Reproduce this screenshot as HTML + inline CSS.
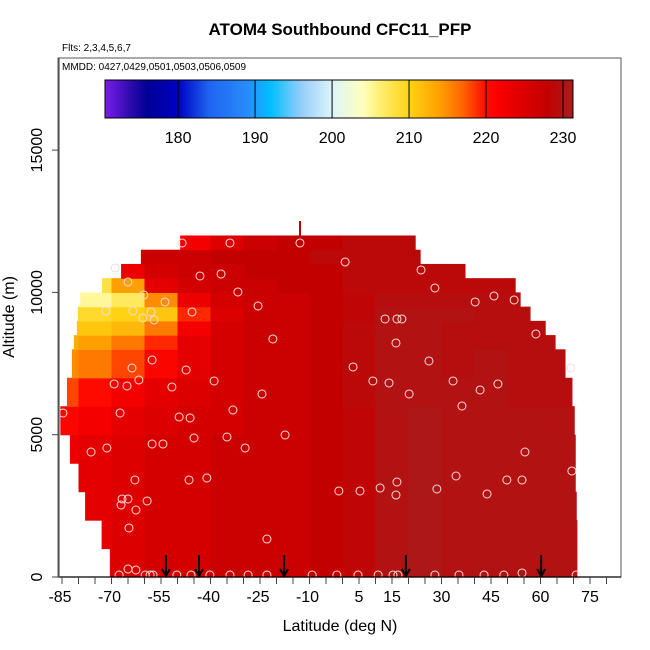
<!DOCTYPE html>
<html><head><meta charset="utf-8"><style>
html,body{margin:0;padding:0;background:#fff}
svg{display:block;font-family:"Liberation Sans",sans-serif}
</style></head><body>
<svg id="chart" width="650" height="650" viewBox="0 0 650 650"></svg>
<script>
// ---- data ----
const rowAltStart = [0,1000,2000,3000,4000,5000,6000,7000,8000,8500,9000,9500,10000,10500,11000,11500];
const rowAltEnd   = [1000,2000,3000,4000,5000,6000,7000,8000,8500,9000,9500,10000,10500,11000,11500,12000];
const rowLatLeft  = [-70.5,-73,-78,-80,-82.6,-85.5,-83.5,-82,-81.4,-80.5,-80.2,-79.5,-72.9,-67.1,-61.1,-49.2];
const rowLatRight = [71,71,70.8,70.5,70.5,70.2,69.5,67.4,64.4,61.4,56.8,53.8,52.3,37.1,23.5,22];
const colLatCenter = [-85,-75,-65,-55,-45,-35,-25,-15,-5,5,15,25,35,45,55,65,75];
const cfcRow0  = [223,224,225,226,226,227,227,227,228,228.5,230,230.5,230,230,230,230,230];
const cfcRow1  = [223,224,225,226,226,227,227,227,228,228.5,230,230.5,230,230,230,230,230];
const cfcRow2  = [223,224,225,226,226,227,227,227,228,228.5,230,230.5,230,230,230,230,230];
const cfcRow3  = [223,224,225,226,226,227,227,227,228,228.5,230,230.5,230,230,230,230,230];
const cfcRow4  = [223,224,225,226,226,227,227,227,228,228.5,230,230.5,230,230,230,230,230];
const cfcRow5  = [221,222,224,225,226,226,227,227,228,228.5,230,230.5,230,230,230,230,230];
const cfcRow6  = [218,220,222,224,225,226,227,227,228,229,230,230,230,230,229.5,229.5,229.5];
const cfcRow7  = [215,216,218,221,224,226,227,227,228,229,230,230,229.5,230,229.5,229.5,229.5];
const cfcRow8  = [213,214,216,219,224,226,227,227,228,229,230,230,229.5,229.5,229.5,229.5,229.5];
const cfcRow9  = [211,211,212,216,222,226,227,227,228,229,230,230,229.5,229.5,229.5,229.5,229.5];
const cfcRow10 = [209,209,210,211,219,225,227,227,228,228.5,230,230,230,229.5,229.5,229.5,229.5];
const cfcRow11 = [205,205,207,215,223,226,227,227,228,228.5,229.5,229.5,229.5,229.5,229.5,229.5,229.5];
const cfcRow12 = [208,208,214,224,226,227,227,228,228,229,229,229,229,229,229,229,229];
const cfcRow13 = [223,223,223,226,227,227,228,228,228,229,229,229,229,229,229,229,229];
const cfcRow14 = [227,227,227,227,227,228,228,228,229,229,229,229,229,229,229,229,229];
const cfcRow15 = [218,218,218,218,222,225,227,228,228,229,229,229,229,229,229,229,229];
const cfcRows = [cfcRow0,cfcRow1,cfcRow2,cfcRow3,cfcRow4,cfcRow5,cfcRow6,cfcRow7,cfcRow8,cfcRow9,cfcRow10,cfcRow11,cfcRow12,cfcRow13,cfcRow14,cfcRow15];
const ptLat = [-84.7,-76.2,-67.7,-65,-62.6,-59.8,-58.3,-57.4,-50.2,-45.9,-40.2,-34.1,-28.6,-22.9,-9.2,-1.7,4.7,10.8,15.3,16.8,28,35.3,42.9,48.9,54.4,70.8,
 -48.6,-34.1,-12.9,0.8,23.8,-68.9,-43.2,-36.8,-65,-60.2,-31.7,-25.6,-71.7,-63.5,-58,-53.8,-60.5,-57.1,-45.6,-21.1,28,40.2,45.9,52,58.6,12.9,16.5,18,16.2,26.2,3.2,9.2,14.1,20.2,33.5,36.2,41.7,47.1,69.2,
 -63.8,-57.7,-69.2,-65.3,-61.7,-51.7,-47.4,-38.9,-24.4,-33.2,-49.5,-46.2,-45,-35,-29.5,-57.7,-54.4,-17.4,-71.4,-67.4,-46.5,-41.1,-62.9,-1.1,5.3,11.4,16.5,16.2,28.6,34.4,43.8,49.8,54.4,55.3,69.5,-66.8,-65,-59.2,-67.1,-62.6,-64.7,-22.9];
const ptAlt = [5763,4392,70,281,246,70,70,70,70,70,70,70,70,70,70,70,70,70,70,70,70,70,70,70,141,70,
 11737,11737,11737,11070,10788,10859,10577,10647,10366,9909,10015,9523,9347,9347,9312,9663,9101,9031,9312,8363,10155,9663,9874,9734,8539,9066,9066,9066,8223,7590,7379,6888,6817,6431,6888,6009,6571,6782,7344,
 7344,7625,6782,6712,6923,6677,7274,6888,6431,5868,5622,5587,4884,4920,4533,4674,4674,4990,4533,5763,3409,3479,3409,3022,3022,3127,3338,2881,3092,3549,2917,3409,3409,4392,3725,2741,2741,2671,2530,2354,1722,1335];
const flightArrowLat = [-53.5,-43.5,-17.7,19.2,60.2];
const xTickLabels = [-85,-70,-55,-40,-25,-10,5,15,30,45,60,75];
const yTickLabels = [0,5000,10000,15000];
const cbarTicks = [180,190,200,210,220,230];
// ---- scales ----
const X0=62, XS=3.3, Y0=577, YS=142.3/5000;
const xS = lat => X0 + (lat+85)*XS;
const yS = alt => Y0 - alt*YS;
const CB_L=105, CB_R=573, CB_V0=170.5, CB_V1=231.3;
const cbX = v => CB_L + (v-CB_V0)/(CB_V1-CB_V0)*(CB_R-CB_L);
const stops=[[170.5,[122,29,232]],[174,[40,10,170]],[176,[0,0,150]],[180,[0,0,195]],[184,[30,100,240]],[189,[40,140,250]],[192,[0,190,255]],[196,[150,205,250]],[200,[220,245,250]],[204,[255,255,190]],[206,[255,240,120]],[210,[255,210,20]],[214,[255,160,0]],[217,[255,100,0]],[220,[255,10,0]],[222,[245,0,0]],[225,[220,0,0]],[228,[195,0,0]],[230,[178,18,18]],[231.3,[165,30,30]]];
function cmap(v){
  if(v<=stops[0][0]) return 'rgb('+stops[0][1]+')';
  for(let i=1;i<stops.length;i++){
    if(v<=stops[i][0]){const a=stops[i-1],b=stops[i],t=(v-a[0])/(b[0]-a[0]);
      return 'rgb('+a[1].map((c,k)=>Math.round(c+(b[1][k]-c)*t)).join(',')+')';}
  }
  return 'rgb('+stops[stops.length-1][1]+')';
}
const NS='http://www.w3.org/2000/svg', svg=document.getElementById('chart');
function mk(tag,attrs,parent){const e=document.createElementNS(NS,tag);for(const k in attrs)e.setAttribute(k,attrs[k]);(parent||svg).appendChild(e);return e;}
// title
let t=mk('text',{x:340,y:35,'text-anchor':'middle','font-size':17,'font-weight':'bold'});t.textContent='ATOM4 Southbound CFC11_PFP';


t=mk('text',{x:62,y:51,'font-size':10});t.textContent='Flts: 2,3,4,5,6,7';


// heatmap
const hm=mk('g',{});


cfcRows.forEach((row,r)=>{
  const y1=yS(rowAltStart[r]), y0=yS(rowAltEnd[r]);
  row.forEach((v,c)=>{
    let l=Math.max(colLatCenter[c]-5,rowLatLeft[r]), rr=Math.min(colLatCenter[c]+5,rowLatRight[r]);
    if(rr<=l) return;
    const e=mk('rect',{x:xS(l),y:y0,width:xS(rr)-xS(l)+0.6,height:y1-y0+0.6,fill:cmap(v)},hm);
    
    
  });
});
mk('line',{x1:300,y1:221,x2:300,y2:236,stroke:'#c00000','stroke-width':2},hm);
// points
const pg=mk('g',{fill:'none',stroke:'#f4dada','stroke-width':1});


ptLat.forEach((la,i)=>{const c=mk('circle',{cx:xS(la),cy:yS(ptAlt[i]),r:4},pg);
  
  });
// arrows
flightArrowLat.forEach(la=>{const x=xS(la);const g=mk('g',{stroke:'#000','stroke-width':2,fill:'none'});
  
  
  mk('line',{x1:x,y1:555,x2:x,y2:576},g);mk('polyline',{points:(x-4)+',569 '+x+',576 '+(x+4)+',569'},g);});
// plot box
const box=mk('rect',{x:58,y:58,width:563,height:519,fill:'none',stroke:'#555','stroke-width':1});


mk('line',{x1:58,y1:577,x2:621,y2:577,stroke:'#000','stroke-width':1.2});
// legend text + colorbar
t=mk('text',{x:62,y:70,'font-size':10});t.textContent='MMDD: 0427,0429,0501,0503,0506,0509';


const cb=mk('g',{});


for(let x=CB_L;x<CB_R;x+=1){const v=CB_V0+(x+0.5-CB_L)/(CB_R-CB_L)*(CB_V1-CB_V0);mk('rect',{x:x,y:80,width:1.2,height:38,fill:cmap(v)},cb);}
mk('rect',{x:CB_L,y:80,width:CB_R-CB_L,height:38,fill:'none',stroke:'#000','stroke-width':1},cb);
cbarTicks.forEach(v=>{mk('line',{x1:cbX(v),y1:80,x2:cbX(v),y2:118,stroke:'#000','stroke-width':1},cb);
  const tt=mk('text',{x:cbX(v),y:143,'text-anchor':'middle','font-size':16},cb);tt.textContent=v;
  
  });
// x axis
const xa=mk('g',{});


for(let la=-85;la<=81;la+=5) mk('line',{x1:xS(la),y1:577,x2:xS(la),y2:584,stroke:'#444','stroke-width':1},xa);
xTickLabels.forEach(v=>{const tt=mk('text',{x:xS(v)-(v<0?2:0),y:602,'text-anchor':'middle','font-size':16},xa);tt.textContent=v;
  
  });
t=mk('text',{x:340,y:631,'text-anchor':'middle','font-size':16});t.textContent='Latitude (deg N)';


// y axis
const ya=mk('g',{});


mk('line',{x1:59,y1:58,x2:59,y2:577,stroke:'#555','stroke-width':1.2},ya);
yTickLabels.forEach(v=>{const y=yS(v);mk('line',{x1:52,y1:y,x2:59,y2:y,stroke:'#444','stroke-width':1},ya);
  const tt=mk('text',{x:42,y:y,'text-anchor':'middle','font-size':16,transform:'rotate(-90 42 '+y+')'},ya);tt.textContent=v;
  
  });
t=mk('text',{x:14,y:317,'text-anchor':'middle','font-size':16,transform:'rotate(-90 14 317)'});t.textContent='Altitude (m)';


</script>
</body></html>
